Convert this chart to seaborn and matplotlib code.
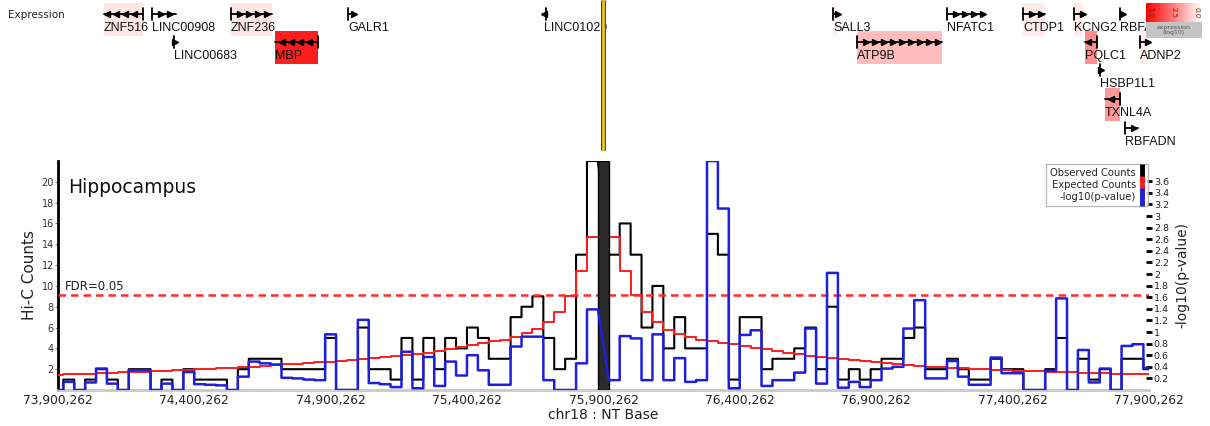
import numpy as np
import pandas as pd
import matplotlib
matplotlib.use("Agg")
import matplotlib.pyplot as plt
import seaborn as sns
from matplotlib.lines import Line2D
from matplotlib.patches import Rectangle
from matplotlib.colors import LinearSegmentedColormap

# ---------------- data ----------------
region_start = 73_900_262
region_end = 77_900_262
first_edge = 73_919_662
bin_width = 40_000
anchor_pos = 75_900_262

# first value = partial bin at the left edge, then 100 bins of 40 kb
observed = [0,
    1, 0, 1, 2, 1, 0, 2, 2, 0, 1,
    0, 2, 1, 1, 1, 0, 2, 3, 3, 3,
    2, 2, 2, 2, 5, 0, 0, 6, 2, 2,
    1, 5, 1, 5, 2, 5, 4, 6, 5, 3,
    3, 7, 8, 9, 5, 2, 3, 13, 22, np.nan,
    13, 16, 13, 6, 10, 4, 7, 4, 4, 15,
    13, 1, 7, 7, 2, 3, 3, 4, 6, 2,
    8, 1, 2, 1, 2, 3, 3, 5, 6, 2,
    2, 3, 2, 1, 1, 3, 2, 2, 0, 0,
    2, 5, 0, 3, 1, 2, 0, 3, 3, 2]
expected = [1.45,
    1.5, 1.5, 1.55, 1.6, 1.65, 1.7, 1.7, 1.75, 1.8, 1.85,
    1.9, 1.95, 2.0, 2.05, 2.1, 2.15, 2.2, 2.25, 2.3, 2.4,
    2.45, 2.5, 2.55, 2.65, 2.7, 2.8, 2.85, 2.95, 3.05, 3.15,
    3.25, 3.35, 3.5, 3.6, 3.75, 3.9, 4.1, 4.3, 4.5, 4.7,
    4.85, 5.1, 5.5, 5.85, 6.55, 7.45, 9.05, 11.4, 14.7, 14.7,
    14.7, 11.4, 9.1, 7.45, 6.5, 5.8, 5.4, 5.1, 4.85, 4.7,
    4.55, 4.4, 4.25, 4.05, 3.9, 3.75, 3.6, 3.45, 3.3, 3.2,
    3.05, 2.95, 2.85, 2.75, 2.65, 2.55, 2.5, 2.4, 2.35, 2.25,
    2.2, 2.15, 2.1, 2.05, 2.0, 1.95, 1.9, 1.85, 1.85, 1.8,
    1.75, 1.7, 1.7, 1.65, 1.6, 1.6, 1.55, 1.55, 1.5, 1.5]
neg_log10_p = [0,
    0.14, 0, 0.13, 0.37, 0.11, 0, 0.34, 0.34, 0, 0.11,
    0, 0.31, 0.1, 0.09, 0.08, 0, 0.23, 0.49, 0.46, 0.44,
    0.21, 0.2, 0.18, 0.17, 0.96, 0, 0, 1.21, 0.12, 0.1,
    0.05, 0.66, 0.03, 0.57, 0.07, 0.49, 0.25, 0.6, 0.34, 0.09,
    0.09, 0.75, 0.92, 0.92, 0.17, 0, 0, 0.46, 1.39, np.nan,
    0.17, 0.93, 0.89, 0.17, 0.96, 0.17, 0.55, 0.14, 0.17, 3.95,
    3.13, 0.03, 0.95, 1.03, 0.07, 0.17, 0.17, 0.3, 1.06, 0.11,
    2.02, 0.04, 0.14, 0.05, 0.17, 0.37, 0.4, 1.06, 1.55, 0.2,
    0.2, 0.5, 0.23, 0.09, 0.09, 0.56, 0.29, 0.29, 0, 0,
    0.33, 1.58, 0, 0.69, 0.13, 0.37, 0, 0.76, 0.79, 0.38]

fdr_level = 9.1
xtick_labels = ["73,900,262", "74,400,262", "74,900,262", "75,400,262", "75,900,262",
                "76,400,262", "76,900,262", "77,400,262", "77,900,262"]
left_ticks = [2, 4, 6, 8, 10, 12, 14, 16, 18, 20]
right_ticks = [0.2, 0.4, 0.6, 0.8, 1.0, 1.2, 1.4, 1.6, 1.8, 2.0, 2.2, 2.4, 2.6, 2.8,
               3.0, 3.2, 3.4, 3.6]
right_tick_labels = ["0.2", "0.4", "0.6", "0.8", "1", "1.2", "1.4", "1.6", "1.8", "2",
                     "2.2", "2.4", "2.6", "2.8", "3", "3.2", "3.4", "3.6"]

gene_names = ["ZNF516", "LINC00908", "LINC00683", "ZNF236", "MBP", "GALR1", "LINC01029",
              "SALL3", "ATP9B", "NFATC1", "CTDP1", "KCNG2", "RBFA", "PQLC1", "HSBP1L1",
              "ADNP2", "TXNL4A", "RBFADN"]
gene_starts = [74_069_000, 74_245_000, 74_325_000, 74_534_500, 74_696_000, 74_963_500,
               75_682_000, 76_741_700, 76_829_700, 77_159_700, 77_438_300, 77_625_300,
               77_794_000, 77_665_700, 77_720_700, 77_867_300, 77_739_000, 77_812_300]
gene_ends = [74_212_000, 74_333_000, 74_331_000, 74_685_000, 74_853_500, 74_984_000,
             75_690_000, 76_760_000, 77_141_400, 77_299_000, 77_519_000, 77_658_300,
             77_805_000, 77_709_700, 77_726_000, 77_895_000, 77_794_000, 77_860_000]
gene_strands = ["-", "+", "+", "+", "-", "+", "-", "+", "+", "+", "+", "+", "+", "-", "+",
                "+", "-", "+"]
gene_rows = [0, 0, 1, 0, 1, 0, 0, 0, 1, 0, 0, 0, 0, 1, 2, 1, 3, 4]
gene_expr = [0.5, 0, 0, 0.5, 4.4, 0, 0, 0.3, 1.3, 0, 0.4, 0.4, 0, 2.2, 0, 0.3, 2.0, 0]

# ---------------- figure ----------------
W, H = 1210, 426
sns.set_theme(style="white")
plt.rcParams["font.family"] = ["DejaVu Sans"]
fig = plt.figure(figsize=(W / 100, H / 100), dpi=100)

px_left, px_right, px_top, px_bottom = 58, 1149, 161, 390
ax = fig.add_axes([px_left / W, 1 - px_bottom / H, (px_right - px_left) / W,
                   (px_bottom - px_top) / H])
ax2 = ax.twinx()

n_bins = len(observed) - 1
bin_starts = [region_start] + [first_edge + bin_width * k for k in range(n_bins)]
bin_ends = [first_edge] + [first_edge + bin_width * (k + 1) for k in range(n_bins)]


def step_vertices(vals):
    xs, ys = [], []
    for s, e, v in zip(bin_starts, bin_ends, vals):
        if v is None or np.isnan(v):
            continue
        xs += [s, e]
        ys += [v, v]
    return xs, ys


anchor_idx = int(np.where(np.isnan(np.array(observed, dtype=float)))[0][0])
ax.axvspan(bin_starts[anchor_idx], bin_ends[anchor_idx], ymin=0, ymax=1,
           facecolor="#2b2b2b", edgecolor="black", lw=1.0, zorder=6)

ox, oy = step_vertices(observed)
ex, ey = step_vertices(expected)
bx, by = step_vertices(neg_log10_p)
sns.lineplot(x=ox, y=oy, sort=False, estimator=None, color="black", lw=1.5, ax=ax, zorder=3)
sns.lineplot(x=ex, y=ey, sort=False, estimator=None, color="#ff1a1a", lw=1.4, ax=ax, zorder=4)
sns.lineplot(x=bx, y=by, sort=False, estimator=None, color="#1f1fe0", lw=1.8, ax=ax2, zorder=3)

ax.axhline(fdr_level, color="#ff2a2a", lw=1.8, ls=(0, (3, 2)), zorder=5)
ax.text(region_start + 25_000, fdr_level + 0.25, "FDR=0.05", fontsize=8.5, va="bottom",
        ha="left", color="#222222")
ax.text(0.009, 0.885, "Hippocampus", transform=ax.transAxes, fontsize=13.5, va="center",
        ha="left", color="#111111")

ax.set_xlim(region_start, region_end)
ax.set_ylim(0, 22)
ax2.set_ylim(0, 3.95)

ax.set_xticks(np.linspace(region_start, region_end, len(xtick_labels)))
ax.set_xticklabels(xtick_labels)
ax.set_yticks(left_ticks)
ax.set_yticklabels([str(t) for t in left_ticks])
ax2.set_yticks(right_ticks)
ax2.set_yticklabels(right_tick_labels)

ax.tick_params(axis="x", direction="inout", length=8, width=1.5, color="black",
               labelsize=8.8, pad=-1, labelcolor="#222222")
ax.tick_params(axis="y", direction="out", length=2, width=0.8, color="#888888",
               labelsize=7, pad=1, labelcolor="#333333", left=True)
ax2.tick_params(axis="y", direction="inout", length=5, width=2, color="black",
                labelsize=6.8, pad=1, labelcolor="#222222", right=True)

for sp in ["top", "right"]:
    ax.spines[sp].set_visible(False)
ax.spines["left"].set_color("black")
ax.spines["left"].set_linewidth(2)
ax.spines["bottom"].set_color("#c8c8c8")
ax.spines["bottom"].set_linewidth(2)
for sp in ax2.spines.values():
    sp.set_visible(False)

ax.set_ylabel("Hi-C Counts", fontsize=11, color="#222222")
ax.yaxis.set_label_coords(-0.019, 0.5)
ax.set_xlabel("chr18 : NT Base", fontsize=10, color="#222222")
ax.xaxis.set_label_coords(0.5, -0.079)
ax2.set_ylabel("-log10(p-value)", fontsize=10, color="#222222")
ax2.yaxis.set_label_coords(1.024, 0.5)

handles = [Line2D([], [], color=c, marker="|", ls="None", markersize=13, markeredgewidth=3.5)
           for c in ["black", "#ff1a1a", "#1f1fe0"]]
leg = ax2.legend(handles, ["Observed Counts", "Expected Counts", "-log10(p-value)"],
                 loc="upper right", bbox_to_anchor=(1.0, 0.99), markerfirst=False,
                 fontsize=7.2, frameon=True, fancybox=False, edgecolor="#aaaaaa",
                 handlelength=0.5, handletextpad=0.3, borderpad=0.4, labelspacing=0.2,
                 borderaxespad=0.1)
leg.get_frame().set_linewidth(1.0)

# ---------------- gene track ----------------
bp_per_px = (region_end - region_start) / (px_right - px_left)
track_h = 155
gax = fig.add_axes([0, 1 - track_h / H, 1, track_h / H])
gax.set_xlim(region_start - px_left * bp_per_px, region_start + (W - px_left) * bp_per_px)
gax.set_ylim(track_h, 0)
gax.axis("off")

expr_cmap = LinearSegmentedColormap.from_list("expr", ["#ffffff", "#ff0000"])
row_y = [14, 42, 70, 99, 128]
spacing = 9 * bp_per_px
for name, s, e, strand, r, ex_v in zip(gene_names, gene_starts, gene_ends, gene_strands,
                                        gene_rows, gene_expr):
    y = row_y[r]
    ly = y + 14
    if ex_v > 0:
        gax.add_patch(Rectangle((s, y - 11), e - s, 33, facecolor=expr_cmap(ex_v / 5.0),
                                edgecolor="none", zorder=1))
    gax.plot([s, e], [y, y], color="black", lw=1.3, zorder=3)
    tss = s if strand == "+" else e
    gax.plot([tss, tss], [y - 6, y + 6], color="black", lw=1.3, zorder=3)
    if strand == "+":
        heads = list(np.arange(s + spacing, e + 1, spacing)) or [e]
        mk = ">"
    else:
        heads = list(np.arange(e - spacing, s - 1, -spacing)) or [s]
        mk = "<"
    gax.plot(heads, [y] * len(heads), ls="None", marker=mk, markersize=4, color="black",
             zorder=3)
    gax.text(s, ly, name, fontsize=9, ha="left", va="center", color="#111111",
             family=["Liberation Sans", "DejaVu Sans"], zorder=4)

gax.plot([anchor_pos, anchor_pos], [0, 150], color="#5a4a00", lw=3.6, zorder=5,
         solid_capstyle="butt")
gax.plot([anchor_pos, anchor_pos], [0, 150], color="#f0c419", lw=2.0, zorder=6,
         solid_capstyle="butt")

fig.text(8 / W, 1 - 15 / H, "Expression", fontsize=7.5, va="center", ha="left",
         color="#222222")

# expression colour scale (top right)
cax = fig.add_axes([1146 / W, 1 - 22 / H, 56 / W, 19 / H])
cax.imshow(np.linspace(5, 0, 100)[None, :], aspect="auto", cmap=expr_cmap, vmin=0, vmax=5,
           extent=[0, 1, 0, 1])
for xx, lab in zip([0.08, 0.5, 0.9], ["5.0", "2.5", "0.0"]):
    cax.text(xx, 0.5, lab, rotation=270, fontsize=5, ha="center", va="center",
             color="#7a2020")
cax.set_xticks([])
cax.set_yticks([])
for sp in cax.spines.values():
    sp.set_visible(False)
bax = fig.add_axes([1146 / W, 1 - 38 / H, 56 / W, 16 / H])
bax.set_facecolor("#c4c4c4")
bax.text(0.5, 0.5, "expression\n(log10)", fontsize=4.5, ha="center", va="center",
         color="#555555", linespacing=0.9)
bax.set_xticks([])
bax.set_yticks([])
for sp in bax.spines.values():
    sp.set_visible(False)

fig.savefig("out.png", dpi=100)
